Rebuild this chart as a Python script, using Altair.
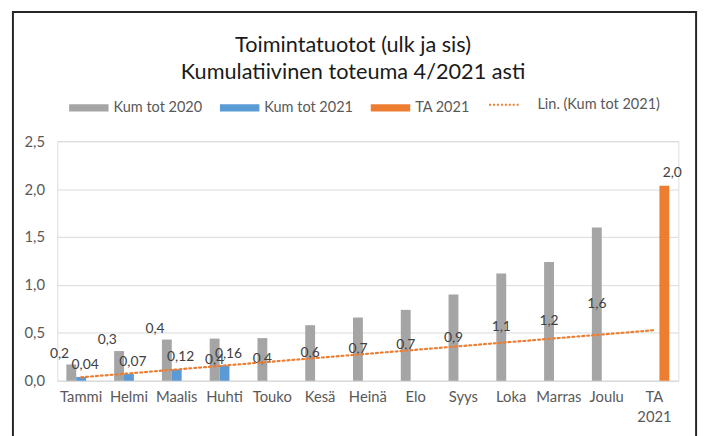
import altair as alt
import pandas as pd

months = ["Tammi", "Helmi", "Maalis", "Huhti", "Touko", "Kesä", "Heinä",
          "Elo", "Syys", "Loka", "Marras", "Joulu", "TA 2021"]
series = ["Kum tot 2020", "Kum tot 2021", "TA 2021"]
kum2020 = [0.17, 0.31, 0.43, 0.44, 0.445, 0.58, 0.66, 0.74, 0.90, 1.12, 1.24, 1.60]
kum2021 = [0.04, 0.07, 0.12, 0.16]
ta2021 = [2.035]
trend_name = "Lin. (Kum tot 2021)"
title_lines = ["Toimintatuotot (ulk ja sis)", "Kumulatiivinen toteuma 4/2021 asti"]
colors = ["#A5A5A5", "#5B9BD5", "#ED7D31"]

rows = []
for i, v in enumerate(kum2020):
    rows.append({"kk": months[i], "idx": i + 1, "sarja": series[0], "arvo": v})
for i, v in enumerate(kum2021):
    rows.append({"kk": months[i], "idx": i + 1, "sarja": series[1], "arvo": v})
for v in ta2021:
    rows.append({"kk": months[-1], "idx": len(months), "sarja": series[2], "arvo": v})
df = pd.DataFrame(rows)

FONT = "Lato"
TXT = "#404040"
AX = "#595959"

xband = alt.Scale(domain=months, paddingInner=0.38, paddingOuter=0.19)
xoff = alt.XOffset("sarja:N", scale=alt.Scale(domain=series, paddingInner=0, paddingOuter=0))
yscale = alt.Scale(domain=[0, 2.5], nice=False)

base = alt.Chart(df)

bars = base.mark_bar().encode(
    x=alt.X("kk:N", scale=xband, sort=months, title=None,
            axis=alt.Axis(labelExpr="split(datum.value, ' ')", labelAngle=0,
                          ticks=False, domain=True, domainColor="#D9D9D9",
                          labelFontSize=15, labelColor=AX, labelFont=FONT,
                          labelPadding=9, labelLineHeight=20)),
    xOffset=xoff,
    y=alt.Y("arvo:Q", scale=yscale, title=None,
            axis=alt.Axis(values=[0, 0.5, 1, 1.5, 2, 2.5], format=".1f",
                          ticks=False, domain=False, gridColor="#D9D9D9",
                          labelFontSize=15, labelColor=AX, labelFont=FONT,
                          labelPadding=13)),
    color=alt.Color("sarja:N", scale=alt.Scale(domain=series, range=colors),
                    legend=alt.Legend(title=None, orient="none", legendX=12, legendY=-54,
                                      direction="horizontal",
                                      symbolType="M-1,-0.18H1V0.18H-1Z", symbolSize=1600,
                                      symbolStrokeWidth=0, labelFontSize=14.7,
                                      labelColor=AX, labelFont=FONT,
                                      labelOffset=5, columnPadding=18)),
)

def xenc():
    return alt.X("kk:N", scale=xband, sort=months, axis=None)

lab_early = base.transform_filter(
    (alt.datum.sarja == series[0]) & (alt.datum.idx <= 3)
).mark_text(baseline="bottom", dx=-12, dy=-4, fontSize=14, font=FONT, color=TXT).encode(
    x=xenc(), xOffset=xoff, y=alt.Y("arvo:Q", scale=yscale),
    text=alt.Text("arvo:Q", format=".1f"))

lab_mid = base.transform_filter(
    (alt.datum.sarja == series[0]) & (alt.datum.idx > 3)
).transform_calculate(mid="datum.arvo / 2").mark_text(
    baseline="middle", fontSize=14, font=FONT, color=TXT).encode(
    x=xenc(), xOffset=xoff, y=alt.Y("mid:Q", scale=yscale),
    text=alt.Text("arvo:Q", format=".1f"))

lab_blue = base.transform_filter(alt.datum.sarja == series[1]).mark_text(
    baseline="bottom", dx=4, dy=-5, fontSize=14, font=FONT, color=TXT).encode(
    x=xenc(), xOffset=xoff, y=alt.Y("arvo:Q", scale=yscale),
    text=alt.Text("arvo:Q", format=".2f"))

lab_ta = base.transform_filter(alt.datum.sarja == series[2]).mark_text(
    baseline="bottom", dx=8, dy=-6, fontSize=14, font=FONT, color=TXT).encode(
    x=xenc(), xOffset=xoff, y=alt.Y("arvo:Q", scale=yscale),
    text=alt.Text("arvo:Q", format=".1f"))

trend = base.transform_filter(alt.datum.sarja == series[1]).transform_regression(
    "idx", "arvo", method="linear", extent=[1, len(months)]
).transform_calculate(nimi=f"'{trend_name}'").mark_line(
    strokeDash=[2, 3], strokeWidth=2.2, strokeCap="round").encode(
    x=alt.X("idx:Q", scale=alt.Scale(domain=[0.5, len(months) + 0.5], nice=False, zero=False), axis=None),
    y=alt.Y("arvo:Q", scale=yscale),
    stroke=alt.Stroke("nimi:N", scale=alt.Scale(range=[colors[2]]),
                      legend=alt.Legend(title=None, orient="none", legendX=437, legendY=-54,
                                        symbolType="stroke", symbolDash=[2, 2],
                                        symbolStrokeWidth=2, symbolSize=1024,
                                        labelFontSize=14.7, labelColor=AX,
                                        labelFont=FONT, labelOffset=16)),
)

frame = alt.Chart(alt.Data(values=[{"a": 1}])).mark_rect(
    filled=False, stroke="#262626", strokeWidth=2).encode(
    x=alt.value(-45), x2=alt.value(648), y=alt.value(-131), y2=alt.value(330))

title = alt.Chart(alt.Data(values=[{"a": 1}])).mark_text(
    text=title_lines, fontSize=22, font=FONT, color="#1a1a1a",
    baseline="middle", align="center", lineHeight=27).encode(
    x=alt.value(300), y=alt.value(-97))

chart = alt.layer(bars, lab_early, lab_mid, lab_blue, lab_ta, trend, frame, title).resolve_scale(
    x="independent"
).properties(
    width=630, height=243,
    padding={"left": 50, "top": 132, "right": 25, "bottom": 60},
    autosize=alt.AutoSizeParams(type="none"),
).configure_view(stroke=None).configure(
    locale=alt.Locale(number=alt.NumberLocale(decimal=",", thousands="\u00a0",
                                             grouping=[3], currency=["", " €"]))
)

chart.save("out.html", embed_options={"renderer": "svg", "actions": False})
